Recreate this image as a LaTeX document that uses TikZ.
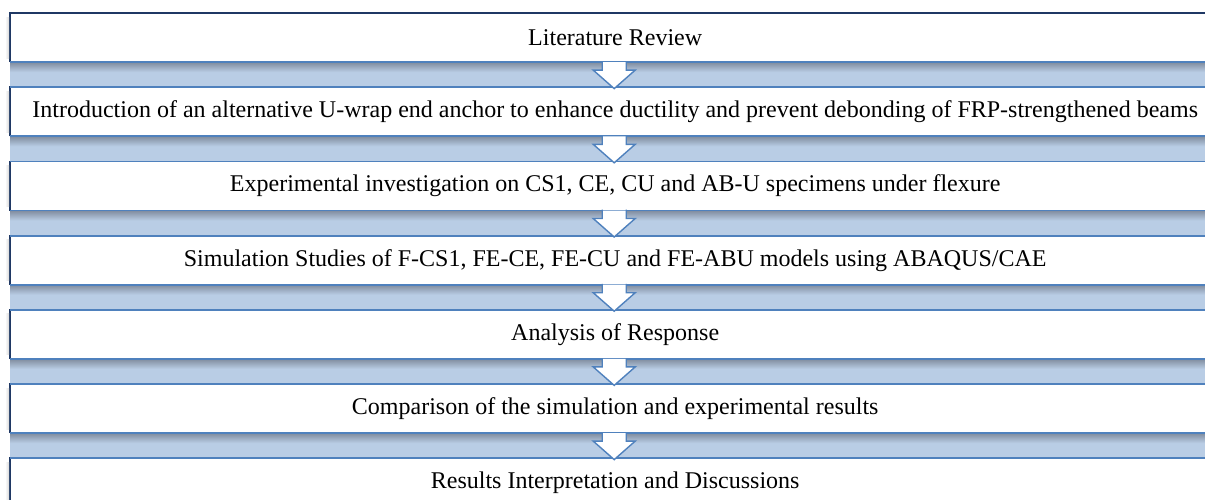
\documentclass[tikz,border=0pt]{standalone}
\usepackage{fontspec}
\setmainfont{Liberation Serif}
\usetikzlibrary{calc}
\definecolor{navy}{RGB}{31,56,100}
\definecolor{bandblue}{RGB}{79,129,189}
\definecolor{bandfill}{RGB}{185,205,229}
\definecolor{bandshade}{RGB}{128,140,158}
\begin{document}
\begin{tikzpicture}[x=1pt,y=-1pt,
  stagebox/.style={rectangle, fill=white,
    minimum width=1210pt, minimum height=48.7pt, inner sep=0pt,
    font=\fontsize{24}{28}\selectfont, anchor=north west},
  boxedge/.style={draw=navy, line width=1.6pt},
  bandedge/.style={draw=bandblue, line width=1.8pt},
  chevron/.style={draw=bandblue, line width=1.4pt, line join=miter}]
\useasboundingbox (0,0) rectangle (1205,499);
\fill[white] (0,0) rectangle (1205,499);

\node[stagebox] (b1) at (10,13.0)  {Literature Review};
\node[stagebox] (b2) at (10,87.2)  {Introduction of an alternative U-wrap end anchor to enhance ductility and prevent debonding of FRP-strengthened beams};
\node[stagebox] (b3) at (10,161.4) {Experimental investigation on CS1, CE, CU and AB-U specimens under flexure};
\node[stagebox] (b4) at (10,235.6) {Simulation Studies of F-CS1, FE-CE, FE-CU and FE-ABU models using ABAQUS/CAE};
\node[stagebox] (b5) at (10,309.8) {Analysis of Response};
\node[stagebox] (b6) at (10,384.0) {Comparison of the simulation and experimental results};
\node[stagebox] (b7) at (10,458.2) {Results Interpretation and Discussions};

% box edges (left and top) and left soft shadows
\foreach \n in {b1,b2,b3,b4,b5,b6,b7}{
  \draw[boxedge] (\n.south west) -- (\n.north west) -- (\n.north east);
  \shade[left color=white, right color=black!16]
    ($(\n.north west)+(-5,4)$) rectangle ($(\n.south west)+(-0.8,-4)$);
}

% bands with chevrons
\foreach \a/\b in {b1/b2,b2/b3,b3/b4,b4/b5,b5/b6,b6/b7}{
  \coordinate (t) at ($(\a.south)+(-1,0)$);
  \fill[bandfill] (\a.south west) rectangle (\b.north east);
  \shade[top color=bandshade, bottom color=bandfill]
    (\a.south west) rectangle ($(\a.south east)+(0,10)$);
  \draw[bandedge] (\a.south west) -- (\a.south east);
  \draw[bandedge] (\b.north west) -- (\b.north east);
  \fill[white] (t) -- +(-12,0) -- +(-12,8) -- +(-21,8) -- +(0,26.5)
    -- +(21,8) -- +(12,8) -- +(12,0) -- cycle;
  \draw[chevron] ($(t)+(-12,-0.9)$) -- ($(t)+(-12,8)$) -- ($(t)+(-21,8)$)
    -- ($(t)+(0,26.5)$) -- ($(t)+(21,8)$) -- ($(t)+(12,8)$) -- ($(t)+(12,-0.9)$);
}
\end{tikzpicture}
\end{document}
